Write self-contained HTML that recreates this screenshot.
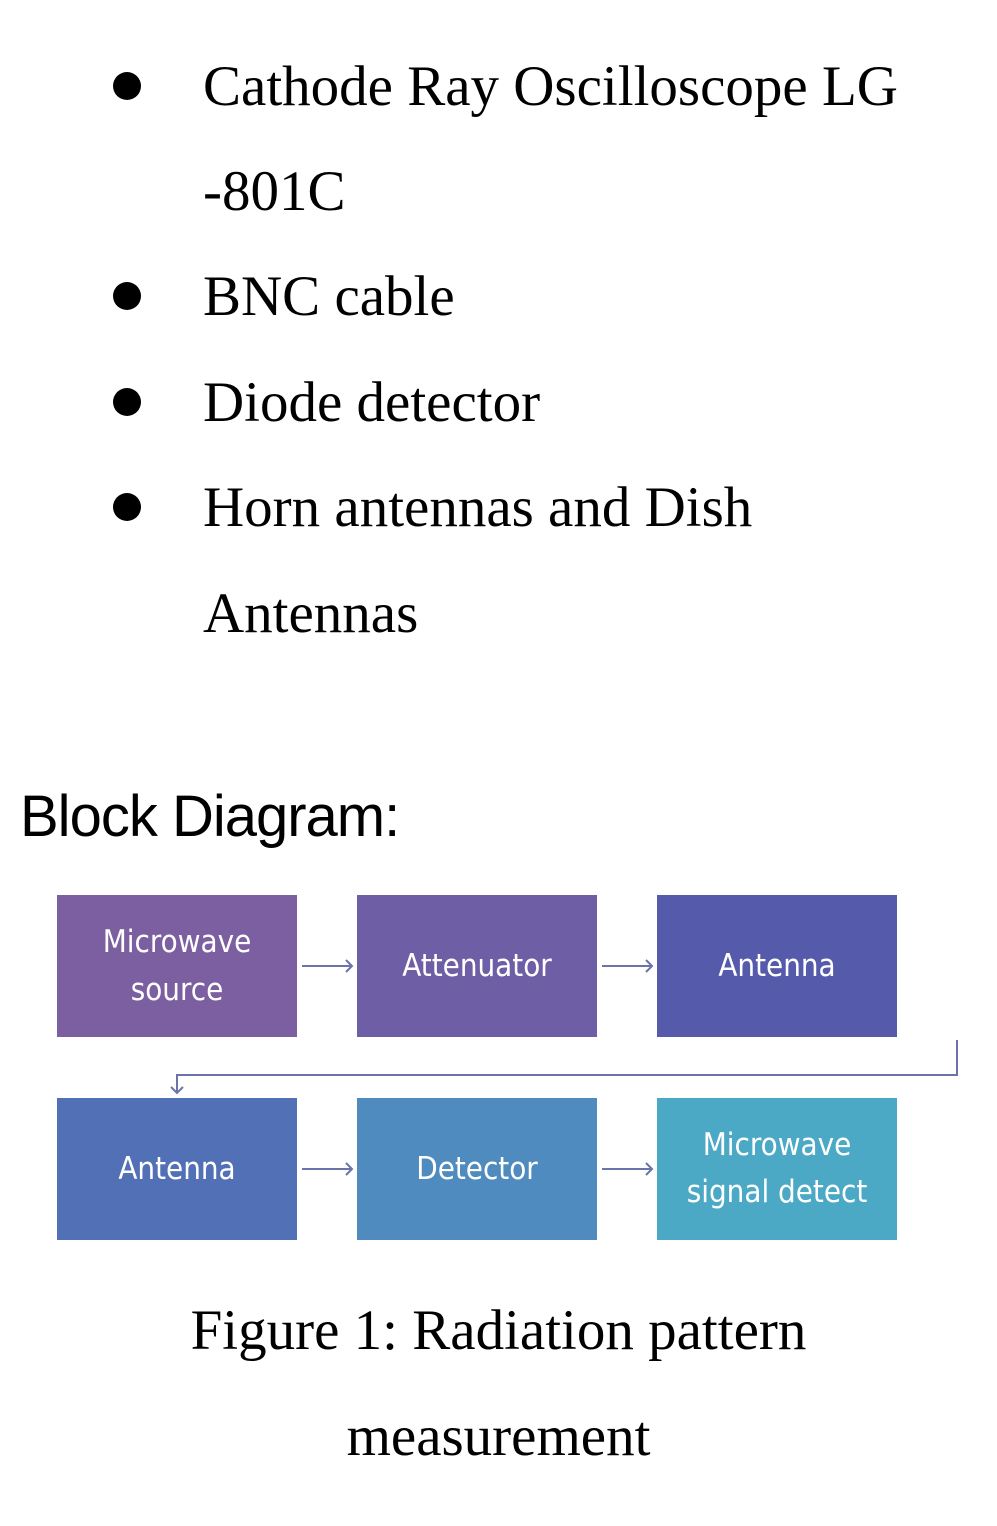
<!DOCTYPE html>
<html><head><meta charset="utf-8"><style>
body{margin:0;width:997px;height:1526px;background:#fff;position:relative;overflow:hidden;font-family:"Liberation Serif",serif;color:#000}
.t{position:absolute;font-size:57px;line-height:57px;white-space:nowrap}
.b{position:absolute;left:113px;width:30px;height:30px;border-radius:50%;background:#000}
.box{position:absolute;width:240px;height:142px;color:#fff;font-family:"DejaVu Sans Condensed","Liberation Sans",sans-serif;font-size:31px;display:flex;align-items:center;justify-content:center;text-align:center;line-height:48px}
</style></head><body>
<div class="b" style="top:72px;width:28px;height:28px"></div>
<div class="t" style="left:203px;top:58px">Cathode Ray Oscilloscope LG</div>
<div class="t" style="left:203px;top:163px">-801C</div>
<div class="b" style="top:282px;width:28px;height:28px"></div>
<div class="t" style="left:203px;top:268px">BNC cable</div>
<div class="b" style="top:388px;width:28px;height:28px"></div>
<div class="t" style="left:203px;top:374px">Diode detector</div>
<div class="b" style="top:493px;width:28px;height:28px"></div>
<div class="t" style="left:203px;top:479px">Horn antennas and Dish</div>
<div class="t" style="left:203px;top:585px">Antennas</div>
<div class="t" style="left:20px;top:788px;font-family:'Liberation Sans Narrow','Liberation Sans',sans-serif;font-size:58px;letter-spacing:-1px">Block Diagram:</div>

<div class="box" style="left:57px;top:895px;background:#7c5fa0">Microwave<br>source</div>
<div class="box" style="left:357px;top:895px;background:#6e5ea6">Attenuator</div>
<div class="box" style="left:657px;top:895px;background:#565aab">Antenna</div>
<div class="box" style="left:57px;top:1098px;background:#5170b5">Antenna</div>
<div class="box" style="left:357px;top:1098px;background:#4f8bbe">Detector</div>
<div class="box" style="left:657px;top:1098px;background:#4ba9c6;line-height:47px">Microwave<br>signal detect</div>

<svg style="position:absolute;left:0;top:0" width="997" height="1526">
<g stroke="#6a74a8" stroke-width="2" fill="none">
<path d="M302 966H352M346 960L352 966L346 972"/>
<path d="M602 966H652M646 960L652 966L646 972"/>
<path d="M302 1169H352M346 1163L352 1169L346 1175"/>
<path d="M602 1169H652M646 1163L652 1169L646 1175"/>
<path d="M957 1040V1075H177V1093M171 1087L177 1093L183 1087"/>
</g></svg>

<div class="t" style="left:0;width:997px;text-align:center;top:1302px">Figure 1: Radiation pattern</div>
<div class="t" style="left:0;width:997px;text-align:center;top:1408px">measurement</div>
</body></html>
